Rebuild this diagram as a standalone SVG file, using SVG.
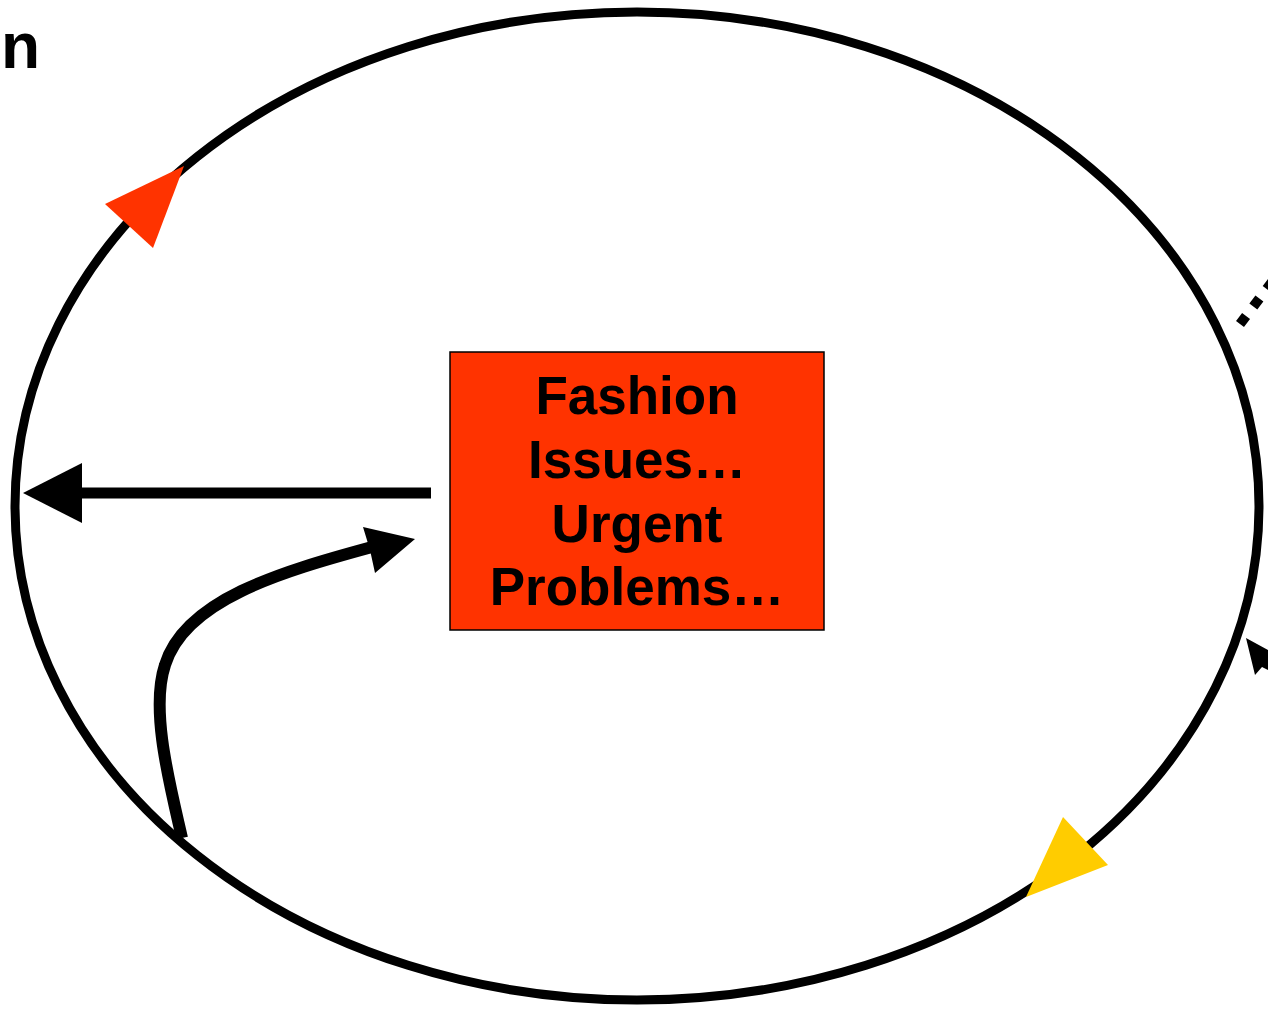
<svg xmlns="http://www.w3.org/2000/svg" width="1268" height="1009" viewBox="0 0 1268 1009">
<style>
.lbl{font-family:"Liberation Sans",Arial,sans-serif;font-weight:bold;fill:#000}
.ring{fill:none;stroke:#000;stroke-width:9}
</style>
<rect width="1268" height="1009" fill="#fff"/>
<text class="lbl" x="1" y="68" font-size="64">n</text>
<g id="cycle">
<ellipse class="ring" cx="637" cy="506" rx="622" ry="494"/>
<polygon points="105,204 184,166 153,248" fill="#FF3300"/>
<polygon points="1063,817 1108,865 1026,897" fill="#FFCC00"/>
</g>
<g id="offscreen">
<path d="M1240,324 L1272,282" fill="none" stroke="#000" stroke-width="10" stroke-dasharray="10,12"/>
<polygon points="1246,638 1268,650 1268,670 1262,667 1255,675" fill="#000"/>
</g>
<g id="box">
<rect x="450" y="352" width="374" height="278" fill="#FF3300" stroke="#000" stroke-width="1.5"/>
<text class="lbl" font-size="53" text-anchor="middle"><tspan x="637" y="414">Fashion</tspan><tspan x="637" y="478">Issues…</tspan><tspan x="637" y="542">Urgent</tspan><tspan x="637" y="605">Problems…</tspan></text>
</g>
<g id="connectors">
<line x1="431" y1="493" x2="78" y2="493" stroke="#000" stroke-width="11"/>
<polygon points="23,493 82,463 82,523" fill="#000"/>
<path d="M182,838 C170,785 150,710 165,665 C185,600 280,572 372,547" fill="none" stroke="#000" stroke-width="12"/>
<polygon points="415,539 363,527 370,550 375,573" fill="#000"/>
</g>
</svg>
